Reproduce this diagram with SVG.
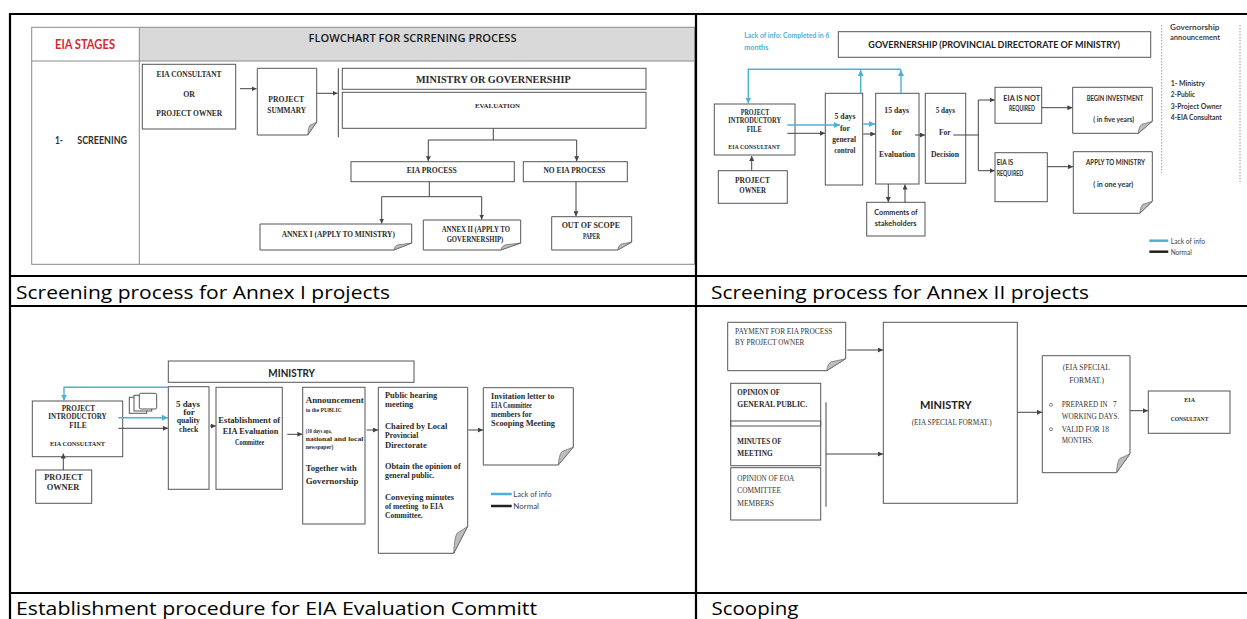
<svg xmlns="http://www.w3.org/2000/svg" width="1247" height="619" viewBox="0 0 1247 619">
<style>
  .grid { fill: none; stroke: #000; stroke-width: 2.2; }
  .inner { fill: none; stroke: #8a8a8a; stroke-width: 1; }
  .box { fill: #fff; stroke: #555; stroke-width: 1; }
  .open { fill: none; stroke: #555; stroke-width: 1; }
  .fold { fill: #bdbdbd; stroke: #666; stroke-width: 0.7; }
  .ln { fill: none; stroke: #444; stroke-width: 1; }
  .lnb { fill: none; stroke: #4bb0d6; stroke-width: 1.4; }
  .s { font-family: "Liberation Serif", "Times New Roman", serif; font-weight: bold; fill: #2b2b2b; }
  .sr { font-family: "Liberation Serif", "Times New Roman", serif; fill: #333; }
  .c { font-family: Lato, "Open Sans", sans-serif; font-weight: bold; fill: #2f2f2f; }
  .cr { font-family: Lato, "Open Sans", sans-serif; fill: #444; }
  .m { text-anchor: middle; }
  .cap { font-family: "Open Sans", "Liberation Sans", sans-serif; font-size: 17.5px; fill: #000; }
</style>
<defs>
  <marker id="ah" markerUnits="userSpaceOnUse" markerWidth="5" markerHeight="5" refX="5" refY="2.5" orient="auto">
    <path d="M0,0 L5,2.5 L0,5 Z" fill="#444"/>
  </marker>
  <marker id="ahb" markerUnits="userSpaceOnUse" markerWidth="6" markerHeight="6" refX="6" refY="3" orient="auto">
    <path d="M0,0 L6,3 L0,6 Z" fill="#4bb0d6"/>
  </marker>
</defs>

<rect width="1247" height="619" fill="#fff"/>

<!-- outer table -->
<g id="table">
  <line class="grid" x1="10" y1="14" x2="1247" y2="14"/>
  <line class="grid" x1="10" y1="276" x2="1247" y2="276"/>
  <line class="grid" x1="10" y1="306" x2="1247" y2="306"/>
  <line class="grid" x1="10" y1="593" x2="1247" y2="593"/>
  <line class="grid" x1="10" y1="13" x2="10" y2="619"/>
  <line class="grid" x1="696" y1="13" x2="696" y2="619"/>
  <text class="cap" x="16" y="299" textLength="374" lengthAdjust="spacingAndGlyphs">Screening process for Annex I projects</text>
  <text class="cap" x="711" y="299" textLength="378" lengthAdjust="spacingAndGlyphs">Screening process for Annex II projects</text>
  <text class="cap" x="16" y="615" textLength="521" lengthAdjust="spacingAndGlyphs">Establishment procedure for EIA Evaluation Committ</text>
  <text class="cap" x="711.5" y="615" textLength="87" lengthAdjust="spacingAndGlyphs">Scooping</text>
</g>

<!-- ===== Panel 1: flowchart for screening process ===== -->
<g id="screening-frame">
  <rect x="139.3" y="27.3" width="555.2" height="33.7" fill="#d9d9d9"/>
  <rect class="inner" x="31.7" y="27.3" width="662.8" height="237"/>
  <line class="inner" x1="31.7" y1="61" x2="694.5" y2="61"/>
  <line class="inner" x1="139.3" y1="27.3" x2="139.3" y2="264.3"/>
  <text class="c m" x="85" y="49" font-size="12.5" style="fill:#d7282f" textLength="60" lengthAdjust="spacingAndGlyphs">EIA STAGES</text>
  <text class="m" x="412.5" y="41.7" font-family="'Open Sans', Lato, sans-serif" font-weight="600" font-size="10.5" fill="#1a1a1a" textLength="208" lengthAdjust="spacingAndGlyphs">FLOWCHART FOR SCRRENING  PROCESS</text>
  <text class="c" x="55" y="144.3" font-size="10.5" textLength="8" lengthAdjust="spacingAndGlyphs">1-</text>
  <text class="c" x="77.3" y="144.3" font-size="10.5" textLength="49.7" lengthAdjust="spacingAndGlyphs">SCREENING</text>
</g>

<g id="p1-consultant">
  <rect class="box" x="142.3" y="64.3" width="93.4" height="64.7"/>
  <text class="s m" x="189" y="76.7" font-size="7.5" textLength="65" lengthAdjust="spacingAndGlyphs">EIA CONSULTANT</text>
  <text class="s m" x="189" y="96.7" font-size="7.5" textLength="11.7" lengthAdjust="spacingAndGlyphs">OR</text>
  <text class="s m" x="189.3" y="116" font-size="7.5" textLength="66" lengthAdjust="spacingAndGlyphs">PROJECT OWNER</text>
</g>
<g id="p1-summary">
  <path class="box" d="M257.3,68.3 H316.7 V122 L307.7,135 H257.3 Z"/>
  <path class="fold" d="M307.7,135 Q308.15,127.2 309.95,125.25 Q313.1,123.95 316.7,122 Z"/>
  <text class="s m" x="286.2" y="102.3" font-size="7.5" textLength="35.7" lengthAdjust="spacingAndGlyphs">PROJECT</text>
  <text class="s m" x="286.7" y="112.7" font-size="7.5" textLength="38.7" lengthAdjust="spacingAndGlyphs">SUMMARY</text>
</g>
<g id="p1-ministry">
  <rect class="box" x="342.3" y="68.3" width="303.7" height="21"/>
  <text class="s m" x="493.3" y="83.3" font-size="10.5" textLength="154.7" lengthAdjust="spacingAndGlyphs">MINISTRY OR GOVERNERSHIP</text>
</g>
<g id="p1-evaluation">
  <rect class="box" x="342.3" y="92.3" width="303.7" height="36"/>
  <text class="s m" x="497.5" y="108.3" font-size="7" textLength="45" lengthAdjust="spacingAndGlyphs">EVALUATION</text>
</g>
<g id="p1-eia-process">
  <rect class="box" x="351" y="161.7" width="163.3" height="20"/>
  <text class="s m" x="431.7" y="173.3" font-size="7.5" textLength="50" lengthAdjust="spacingAndGlyphs">EIA PROCESS</text>
</g>
<g id="p1-no-eia">
  <rect class="box" x="523.3" y="161.7" width="104" height="20"/>
  <text class="s m" x="574.5" y="173.3" font-size="7.5" textLength="62" lengthAdjust="spacingAndGlyphs">NO EIA PROCESS</text>
</g>
<g id="p1-annex1">
  <path class="box" d="M260,224 H411.7 V243 L393.7,250 H260 Z"/>
  <path class="fold" d="M393.7,250 Q394.6,245.8 398.2,244.75 Q404.5,244.05 411.7,243 Z"/>
  <text class="s m" x="338.3" y="236.5" font-size="7.5" textLength="113.3" lengthAdjust="spacingAndGlyphs">ANNEX I (APPLY TO MINISTRY)</text>
</g>
<g id="p1-annex2">
  <path class="box" d="M423.3,220 H520.7 V243 L500.7,250 H423.3 Z"/>
  <path class="fold" d="M500.7,250 Q501.7,245.8 505.7,244.75 Q512.7,244.05 520.7,243 Z"/>
  <text class="s m" x="475.8" y="231.7" font-size="7.5" textLength="68.3" lengthAdjust="spacingAndGlyphs">ANNEX II (APPLY TO</text>
  <text class="s m" x="475" y="242.3" font-size="7.5" textLength="56.7" lengthAdjust="spacingAndGlyphs">GOVERNERSHIP)</text>
</g>
<g id="p1-out-of-scope">
  <path class="box" d="M551.7,216.7 H631.7 V242 L617.7,250 H551.7 Z"/>
  <path class="fold" d="M617.7,250 Q618.4,245.2 621.2,244 Q626.1,243.2 631.7,242 Z"/>
  <text class="s m" x="590.8" y="227.7" font-size="7.5" textLength="58.3" lengthAdjust="spacingAndGlyphs">OUT OF SCOPE</text>
  <text class="s m" x="591.5" y="239" font-size="7.5" textLength="17" lengthAdjust="spacingAndGlyphs">PAPER</text>
</g>
<g id="p1-connectors">
  <path class="ln" d="M240,88.7 H256.5" marker-end="url(#ah)"/>
  <path class="ln" d="M316.7,93.3 H337.5" marker-end="url(#ah)"/>
  <path class="ln" d="M338.3,68.3 V137.3"/>
  <path class="ln" d="M493.3,128.3 V140 M428.3,140 H576.7"/>
  <path class="ln" d="M428.3,140 V161.2" marker-end="url(#ah)"/>
  <path class="ln" d="M576.7,140 V161.2" marker-end="url(#ah)"/>
  <path class="ln" d="M429.3,181.7 V196.7 M381.7,196.7 H481.7"/>
  <path class="ln" d="M381.7,196.7 V223.5" marker-end="url(#ah)"/>
  <path class="ln" d="M481.7,196.7 V219.5" marker-end="url(#ah)"/>
  <path class="ln" d="M576,181.7 V216.2" marker-end="url(#ah)"/>
</g>

<!-- ===== Panel 2: Annex II screening ===== -->
<g id="p2-note">
  <text class="c" x="744.3" y="38.3" font-size="8" style="fill:#4bb0d6" textLength="85" lengthAdjust="spacingAndGlyphs">Lack of info: Completed in 6</text>
  <text class="c" x="744.3" y="50" font-size="8" style="fill:#4bb0d6" textLength="24" lengthAdjust="spacingAndGlyphs">months</text>
</g>
<g id="p2-governership">
  <rect class="box" x="838.3" y="31.7" width="312.4" height="25.6"/>
  <text class="c m" x="994.2" y="48.3" font-size="10" style="fill:#222" textLength="251.7" lengthAdjust="spacingAndGlyphs">GOVERNERSHIP (PROVINCIAL DIRECTORATE OF MINISTRY)</text>
</g>
<g id="p2-intro-file">
  <rect class="box" x="714.3" y="104" width="80.7" height="51"/>
  <text class="s m" x="755" y="115" font-size="7.5" textLength="28.6" lengthAdjust="spacingAndGlyphs">PROJECT</text>
  <text class="s m" x="754.7" y="123.3" font-size="7.5" textLength="52.7" lengthAdjust="spacingAndGlyphs">INTRODUCTORY</text>
  <text class="s m" x="754.2" y="132.3" font-size="7.5" textLength="15" lengthAdjust="spacingAndGlyphs">FILE</text>
  <text class="s m" x="754.2" y="149.3" font-size="6.5" textLength="51.7" lengthAdjust="spacingAndGlyphs">EIA CONSULTANT</text>
</g>
<g id="p2-owner">
  <rect class="box" x="718.3" y="170.7" width="69" height="32.6"/>
  <text class="s m" x="752.5" y="182.7" font-size="9" textLength="35" lengthAdjust="spacingAndGlyphs">PROJECT</text>
  <text class="s m" x="752.7" y="192.7" font-size="9" textLength="26.7" lengthAdjust="spacingAndGlyphs">OWNER</text>
</g>
<g id="p2-general-control">
  <rect class="box" x="825.3" y="93.3" width="37.4" height="91.7"/>
  <text class="s m" x="845" y="119" font-size="8.5" textLength="21" lengthAdjust="spacingAndGlyphs">5 days</text>
  <text class="s m" x="845" y="130.7" font-size="8.5" textLength="10" lengthAdjust="spacingAndGlyphs">for</text>
  <text class="s m" x="844.2" y="141.7" font-size="8.5" textLength="23.7" lengthAdjust="spacingAndGlyphs">general</text>
  <text class="s m" x="844.8" y="152.7" font-size="8.5" textLength="21" lengthAdjust="spacingAndGlyphs">control</text>
</g>
<g id="p2-evaluation">
  <rect class="box" x="875.7" y="93.3" width="43.3" height="90.7"/>
  <text class="s m" x="896.7" y="113.3" font-size="8.5" textLength="24.7" lengthAdjust="spacingAndGlyphs">15 days</text>
  <text class="s m" x="896.7" y="135" font-size="8.5" textLength="10" lengthAdjust="spacingAndGlyphs">for</text>
  <text class="s m" x="897" y="157.3" font-size="8.5" textLength="36" lengthAdjust="spacingAndGlyphs">Evaluation</text>
</g>
<g id="p2-decision">
  <rect class="box" x="925.3" y="93.3" width="40.4" height="90"/>
  <text class="s m" x="945.3" y="113.3" font-size="8.5" textLength="19.3" lengthAdjust="spacingAndGlyphs">5 days</text>
  <text class="s m" x="944.8" y="135" font-size="8.5" textLength="11.7" lengthAdjust="spacingAndGlyphs">For</text>
  <text class="s m" x="945" y="157.3" font-size="8.5" textLength="28" lengthAdjust="spacingAndGlyphs">Decision</text>
</g>
<g id="p2-stakeholders">
  <rect class="box" x="866.7" y="202.3" width="58.3" height="33.7"/>
  <text class="c m" x="896" y="215" font-size="7.5" textLength="43.3" lengthAdjust="spacingAndGlyphs">Comments of</text>
  <text class="c m" x="895.7" y="226" font-size="7.5" textLength="41.7" lengthAdjust="spacingAndGlyphs">stakeholders</text>
</g>
<g id="p2-not-required">
  <rect class="box" x="995" y="87.3" width="46.7" height="36"/>
  <text class="c m" x="1021.7" y="100.7" font-size="7.5" textLength="36.7" lengthAdjust="spacingAndGlyphs">EIA IS NOT</text>
  <text class="c m" x="1022" y="111" font-size="7.5" textLength="26" lengthAdjust="spacingAndGlyphs">REQUIRED</text>
</g>
<g id="p2-begin">
  <path class="box" d="M1072.7,87.3 H1152.3 V121.3 L1138.3,133.3 H1072.7 Z"/>
  <path class="fold" d="M1138.3,133.3 Q1139,126.1 1141.8,124.3 Q1146.7,123.1 1152.3,121.3 Z"/>
  <text class="c m" x="1115" y="100.7" font-size="7.5" textLength="56.7" lengthAdjust="spacingAndGlyphs">BEGIN INVESTMENT</text>
  <text class="c m" x="1113.7" y="121.7" font-size="7.5" textLength="40.7" lengthAdjust="spacingAndGlyphs">( in five years)</text>
</g>
<g id="p2-required">
  <rect class="box" x="995" y="152.7" width="52.3" height="49"/>
  <text class="c" x="996.7" y="165" font-size="7.5" textLength="16.6" lengthAdjust="spacingAndGlyphs">EIA IS</text>
  <text class="c" x="996.7" y="175.7" font-size="7.5" textLength="26.7" lengthAdjust="spacingAndGlyphs">REQUIRED</text>
</g>
<g id="p2-apply">
  <path class="box" d="M1073.3,151.7 H1152.3 V201.3 L1139.8,213.3 H1073.3 Z"/>
  <path class="fold" d="M1139.8,213.3 Q1140.4,206.1 1142.9,204.3 Q1147.3,203.1 1152.3,201.3 Z"/>
  <text class="c m" x="1115.5" y="165" font-size="7.5" textLength="59" lengthAdjust="spacingAndGlyphs">APPLY TO MINISTRY</text>
  <text class="c m" x="1113.3" y="186.7" font-size="7.5" textLength="40" lengthAdjust="spacingAndGlyphs">( in one year)</text>
</g>
<g id="p2-announcement">
  <line x1="1161.7" y1="25" x2="1161.7" y2="173" stroke="#999" stroke-width="1" stroke-dasharray="1.5 1.5"/>
  <line x1="1240" y1="25" x2="1240" y2="182" stroke="#999" stroke-width="1" stroke-dasharray="1.5 1.5"/>
  <text class="c m" x="1194.7" y="30" font-size="7.5" style="fill:#444" textLength="49.3" lengthAdjust="spacingAndGlyphs">Governorship</text>
  <text class="c m" x="1195" y="40" font-size="7.5" style="fill:#444" textLength="50" lengthAdjust="spacingAndGlyphs">announcement</text>
  <text class="c" x="1170.7" y="85.7" font-size="8" style="fill:#333" textLength="34.3" lengthAdjust="spacingAndGlyphs">1- Ministry</text>
  <text class="c" x="1170.7" y="96.7" font-size="8" style="fill:#333" textLength="24.3" lengthAdjust="spacingAndGlyphs">2-Public</text>
  <text class="c" x="1170.7" y="109" font-size="8" style="fill:#333" textLength="51" lengthAdjust="spacingAndGlyphs">3-Project Owner</text>
  <text class="c" x="1170.7" y="120" font-size="8" style="fill:#333" textLength="51" lengthAdjust="spacingAndGlyphs">4-EIA Consultant</text>
</g>
<g id="p2-legend">
  <line x1="1149.3" y1="240.7" x2="1168.3" y2="240.7" stroke="#4bb0d6" stroke-width="2.5"/>
  <line x1="1149.3" y1="251.7" x2="1168.3" y2="251.7" stroke="#222" stroke-width="2.5"/>
  <text class="cr" x="1170.7" y="243.5" font-size="7.5" textLength="34.3" lengthAdjust="spacingAndGlyphs">Lack of info</text>
  <text class="cr" x="1170.7" y="254.5" font-size="7.5" textLength="21" lengthAdjust="spacingAndGlyphs">Normal</text>
</g>
<g id="p2-connectors">
  <path class="lnb" d="M860.7,93.3 V70" marker-end="url(#ahb)"/>
  <path class="lnb" d="M901,93.3 V70" marker-end="url(#ahb)"/>
  <path class="lnb" d="M901,69.3 H748.3 V103.5" marker-end="url(#ahb)"/>
  <path class="lnb" d="M787.3,125 H840" marker-end="url(#ahb)"/>
  <path class="lnb" d="M863.3,124 H875" marker-end="url(#ahb)"/>
  <path class="ln" d="M787.3,133.3 H825" marker-end="url(#ah)"/>
  <path class="ln" d="M863.3,134 H875.3" marker-end="url(#ah)"/>
  <path class="ln" d="M751.7,170.7 V156" marker-end="url(#ah)"/>
  <path class="ln" d="M888.3,184 V202" marker-end="url(#ah)"/>
  <path class="ln" d="M905,202.3 V184.5" marker-end="url(#ah)"/>
  <path class="ln" d="M915,135 H925" marker-end="url(#ah)"/>
  <path class="ln" d="M953.3,135 H978.3 M978.3,100 V170.7"/>
  <path class="ln" d="M978.3,100 H994.7" marker-end="url(#ah)"/>
  <path class="ln" d="M978.3,170.7 H994.7" marker-end="url(#ah)"/>
  <path class="ln" d="M1041.7,107.7 H1072.4" marker-end="url(#ah)"/>
  <path class="ln" d="M1047.3,166.7 H1073" marker-end="url(#ah)"/>
</g>

<!-- ===== Panel 3: evaluation committee ===== -->
<g id="p3-ministry">
  <rect class="box" x="168.3" y="361" width="245.7" height="21.3"/>
  <text class="c m" x="291.7" y="376.7" font-size="10.5" style="fill:#222" textLength="46.7" lengthAdjust="spacingAndGlyphs">MINISTRY</text>
</g>
<g id="p3-intro-file">
  <rect class="box" x="32.3" y="401" width="90.4" height="55.7"/>
  <text class="s m" x="78.3" y="411" font-size="7.5" textLength="33.3" lengthAdjust="spacingAndGlyphs">PROJECT</text>
  <text class="s m" x="77.5" y="419.3" font-size="7.5" textLength="58.3" lengthAdjust="spacingAndGlyphs">INTRODUCTORY</text>
  <text class="s m" x="78" y="427.7" font-size="7.5" textLength="17.3" lengthAdjust="spacingAndGlyphs">FILE</text>
  <text class="s m" x="77.5" y="446" font-size="6.5" textLength="55" lengthAdjust="spacingAndGlyphs">EIA CONSULTANT</text>
</g>
<g id="p3-owner">
  <rect class="box" x="35.7" y="470" width="56" height="33.3"/>
  <text class="s m" x="63.5" y="480" font-size="9" textLength="38.3" lengthAdjust="spacingAndGlyphs">PROJECT</text>
  <text class="s m" x="63" y="490" font-size="9" textLength="32.7" lengthAdjust="spacingAndGlyphs">OWNER</text>
</g>
<g id="p3-documents">
  <rect class="box" x="129.3" y="397.3" width="17.4" height="16"/>
  <rect class="box" x="134" y="395.3" width="17.7" height="15.7"/>
  <rect class="box" x="139.3" y="393.3" width="17.4" height="15.7" rx="1.5"/>
</g>
<g id="p3-quality-check">
  <rect class="box" x="168.3" y="386.7" width="40.7" height="102.6"/>
  <text class="s m" x="188" y="406.7" font-size="8.5" textLength="24" lengthAdjust="spacingAndGlyphs">5 days</text>
  <text class="s m" x="189" y="415" font-size="8.5" textLength="11.7" lengthAdjust="spacingAndGlyphs">for</text>
  <text class="s m" x="188.3" y="423.3" font-size="8.5" textLength="23.3" lengthAdjust="spacingAndGlyphs">quality</text>
  <text class="s m" x="188.7" y="431.7" font-size="8.5" textLength="19.3" lengthAdjust="spacingAndGlyphs">check</text>
</g>
<g id="p3-committee">
  <rect class="box" x="216" y="387.3" width="66.3" height="102"/>
  <text class="s m" x="249.2" y="422.7" font-size="8.5" textLength="61.7" lengthAdjust="spacingAndGlyphs">Establishment of</text>
  <text class="s m" x="250.5" y="434.3" font-size="8.5" textLength="55.7" lengthAdjust="spacingAndGlyphs">EIA Evaluation</text>
  <text class="s m" x="249.7" y="445" font-size="8.5" textLength="29.3" lengthAdjust="spacingAndGlyphs">Committee</text>
</g>
<g id="p3-announcement">
  <rect class="box" x="302.7" y="387.3" width="62.3" height="136.7"/>
  <text class="s" x="305.7" y="403.3" font-size="8.5" textLength="58" lengthAdjust="spacingAndGlyphs">Announcement</text>
  <text class="s" x="305.7" y="412.3" font-size="5.5" textLength="36" lengthAdjust="spacingAndGlyphs">to the PUBLIC</text>
  <text class="s" x="305.7" y="432.7" font-size="5.5" textLength="26" lengthAdjust="spacingAndGlyphs">(10 days ago,</text>
  <text class="s" x="305.7" y="441" font-size="5.5" textLength="57.6" lengthAdjust="spacingAndGlyphs">national and local</text>
  <text class="s" x="305.7" y="449" font-size="5.5" textLength="27.6" lengthAdjust="spacingAndGlyphs">newspaper)</text>
  <text class="s" x="305.7" y="470.7" font-size="8.5" textLength="51" lengthAdjust="spacingAndGlyphs">Together with</text>
  <text class="s" x="305.7" y="484" font-size="8.5" textLength="52.7" lengthAdjust="spacingAndGlyphs">Governorship</text>
</g>
<g id="p3-hearing">
  <path class="box" d="M378.3,387.3 H467.7 V526.3 L453.7,553.3 H378.3 Z"/>
  <path class="fold" d="M453.7,553.3 Q454.4,537.1 457.2,533.05 Q462.1,530.35 467.7,526.3 Z"/>
  <text class="s" x="385" y="398.3" font-size="8.5" textLength="52.3" lengthAdjust="spacingAndGlyphs">Public hearing</text>
  <text class="s" x="385" y="407.3" font-size="8.5" textLength="28.3" lengthAdjust="spacingAndGlyphs">meeting</text>
  <text class="s" x="385" y="429.3" font-size="8.5" textLength="62.3" lengthAdjust="spacingAndGlyphs">Chaired by Local</text>
  <text class="s" x="385" y="438.3" font-size="8.5" textLength="33.3" lengthAdjust="spacingAndGlyphs">Provincial</text>
  <text class="s" x="385" y="447.7" font-size="8.5" textLength="41.7" lengthAdjust="spacingAndGlyphs">Directorate</text>
  <text class="s" x="385" y="469" font-size="8.5" textLength="75.7" lengthAdjust="spacingAndGlyphs">Obtain the opinion of</text>
  <text class="s" x="385" y="478.3" font-size="8.5" textLength="49.3" lengthAdjust="spacingAndGlyphs">general public.</text>
  <text class="s" x="385" y="500" font-size="8.5" textLength="69" lengthAdjust="spacingAndGlyphs">Conveying minutes</text>
  <text class="s" x="385" y="509" font-size="8.5" textLength="58.3" lengthAdjust="spacingAndGlyphs" style="white-space:pre">of meeting  to EIA</text>
  <text class="s" x="385" y="517.7" font-size="8.5" textLength="37.7" lengthAdjust="spacingAndGlyphs">Committee.</text>
</g>
<g id="p3-invitation">
  <path class="box" d="M483.3,387.7 H573.3 V447 L558.3,465 H483.3 Z"/>
  <path class="fold" d="M558.3,465 Q559.05,454.2 562.05,451.5 Q567.3,449.7 573.3,447 Z"/>
  <text class="s" x="491" y="399.3" font-size="8.5" textLength="63.3" lengthAdjust="spacingAndGlyphs">Invitation letter to</text>
  <text class="s" x="491" y="408.3" font-size="8.5" textLength="40.7" lengthAdjust="spacingAndGlyphs">EIA Committee</text>
  <text class="s" x="491" y="417.3" font-size="8.5" textLength="40.7" lengthAdjust="spacingAndGlyphs">members for</text>
  <text class="s" x="491" y="426" font-size="8.5" textLength="64" lengthAdjust="spacingAndGlyphs">Scooping Meeting</text>
</g>
<g id="p3-legend">
  <line x1="491" y1="494" x2="511.7" y2="494" stroke="#4bb0d6" stroke-width="2.5"/>
  <line x1="491" y1="506" x2="511.7" y2="506" stroke="#222" stroke-width="2.5"/>
  <text class="cr" x="513.3" y="496.7" font-size="7.5" textLength="38.3" lengthAdjust="spacingAndGlyphs">Lack of info</text>
  <text class="cr" x="513.3" y="508.7" font-size="7.5" textLength="25.7" lengthAdjust="spacingAndGlyphs">Normal</text>
</g>
<g id="p3-connectors">
  <path class="lnb" d="M168.3,387.3 H64 V400.5" marker-end="url(#ahb)"/>
  <path class="lnb" d="M118.3,417.7 H168" marker-end="url(#ahb)"/>
  <path class="ln" d="M118.3,428.3 H168" marker-end="url(#ah)"/>
  <path class="ln" d="M63.3,470 V453.5" marker-end="url(#ah)"/>
  <path class="ln" d="M210,426 H215.8" marker-end="url(#ah)"/>
  <path class="ln" d="M287.3,434.3 H302.4" marker-end="url(#ah)"/>
  <path class="ln" d="M366.7,430 H378" marker-end="url(#ah)"/>
  <path class="ln" d="M468.3,430 H483" marker-end="url(#ah)"/>
</g>

<!-- ===== Panel 4: scoping ===== -->
<g id="p4-payment">
  <path class="box" d="M727.7,322.3 H845.7 V358.7 L826.7,370.7 H727.7 Z"/>
  <path class="fold" d="M826.7,370.7 Q827.65,363.5 831.45,361.7 Q838.1,360.5 845.7,358.7 Z"/>
  <text class="sr" x="735" y="334.3" font-size="7.5" textLength="97.3" lengthAdjust="spacingAndGlyphs">PAYMENT FOR EIA PROCESS</text>
  <text class="sr" x="735" y="345" font-size="7.5" textLength="69.3" lengthAdjust="spacingAndGlyphs">BY PROJECT OWNER</text>
</g>
<g id="p4-opinion-public">
  <rect class="open" x="730.7" y="383.3" width="90" height="42.7"/>
  <text class="s" x="737.3" y="395" font-size="7.5" textLength="42.7" lengthAdjust="spacingAndGlyphs">OPINION OF</text>
  <text class="s" x="737.3" y="407.3" font-size="7.5" textLength="70" lengthAdjust="spacingAndGlyphs">GENERAL PUBLIC.</text>
</g>
<g id="p4-minutes">
  <rect class="open" x="730.7" y="421" width="90" height="44.7"/>
  <text class="s" x="737.3" y="444" font-size="7.5" textLength="44.3" lengthAdjust="spacingAndGlyphs">MINUTES OF</text>
  <text class="s" x="737.3" y="455.7" font-size="7.5" textLength="35.3" lengthAdjust="spacingAndGlyphs">MEETING</text>
</g>
<g id="p4-opinion-committee">
  <rect class="open" x="730.7" y="467.7" width="90" height="52.3"/>
  <text class="sr" x="737.3" y="481" font-size="7.5" textLength="57" lengthAdjust="spacingAndGlyphs">OPINION OF EOA</text>
  <text class="sr" x="737.3" y="493.3" font-size="7.5" textLength="43.7" lengthAdjust="spacingAndGlyphs">COMMITTEE</text>
  <text class="sr" x="737.3" y="505.7" font-size="7.5" textLength="36.7" lengthAdjust="spacingAndGlyphs">MEMBERS</text>
</g>
<g id="p4-ministry">
  <rect class="box" x="883.3" y="322.3" width="134" height="181"/>
  <text class="c m" x="945.8" y="409.3" font-size="10.5" style="fill:#222" textLength="51.7" lengthAdjust="spacingAndGlyphs">MINISTRY</text>
  <text class="sr m" x="951.7" y="425" font-size="8" textLength="80" lengthAdjust="spacingAndGlyphs">(EIA SPECIAL FORMAT.)</text>
</g>
<g id="p4-format">
  <path class="box" d="M1042.3,355.7 H1130 V453.7 L1116.5,472.7 H1042.3 Z"/>
  <path class="fold" d="M1116.5,472.7 Q1117.2,461.3 1119.9,458.45 Q1124.6,456.55 1130,453.7 Z"/>
  <text class="sr m" x="1086.3" y="370" font-size="8" textLength="47.3" lengthAdjust="spacingAndGlyphs">(EIA SPECIAL</text>
  <text class="sr m" x="1086.7" y="382.7" font-size="8" textLength="34.7" lengthAdjust="spacingAndGlyphs">FORMAT.)</text>
  <circle cx="1051" cy="404.8" r="1.5" fill="none" stroke="#555" stroke-width="0.7"/>
  <circle cx="1051" cy="429.2" r="1.5" fill="none" stroke="#555" stroke-width="0.7"/>
  <text class="sr" x="1061.7" y="407.3" font-size="8" textLength="55" lengthAdjust="spacingAndGlyphs" style="white-space:pre">PREPARED IN   7</text>
  <text class="sr" x="1061.7" y="419.3" font-size="8" textLength="57.7" lengthAdjust="spacingAndGlyphs">WORKING DAYS.</text>
  <text class="sr" x="1061.7" y="431.7" font-size="8" textLength="47.3" lengthAdjust="spacingAndGlyphs">VALID FOR 18</text>
  <text class="sr" x="1061.7" y="443.3" font-size="8" textLength="31.7" lengthAdjust="spacingAndGlyphs">MONTHS.</text>
</g>
<g id="p4-consultant">
  <rect class="box" x="1148.3" y="391" width="81.7" height="42.3"/>
  <text class="s m" x="1189.7" y="401.7" font-size="6" textLength="10.7" lengthAdjust="spacingAndGlyphs">EIA</text>
  <text class="s m" x="1189.5" y="421" font-size="6" textLength="37.7" lengthAdjust="spacingAndGlyphs">CONSULTANT</text>
</g>
<g id="p4-connectors">
  <path class="ln" d="M847.3,350 H883" marker-end="url(#ah)"/>
  <path class="ln" d="M826,402.3 V506.7"/>
  <path class="ln" d="M826,454 H883" marker-end="url(#ah)"/>
  <path class="ln" d="M1017.3,412.3 H1042" marker-end="url(#ah)"/>
  <path class="ln" d="M1130,410.7 H1148" marker-end="url(#ah)"/>
</g>
</svg>
